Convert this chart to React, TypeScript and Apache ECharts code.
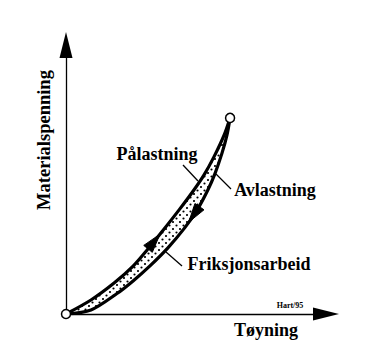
import React, { useEffect, useRef } from "react";
import * as echarts from "echarts";

// Loading curve (Pålastning)
const loadX = [0, 0.96, 1.85, 2.58, 3.12, 3.65, 4.35, 4.92, 5.31, 5.69, 6.08, 6.31];
const loadY = [0, 0.52, 1.15, 1.78, 2.38, 3.01, 3.87, 4.61, 5.17, 5.84, 6.65, 7.29];
// Unloading curve (Avlastning)
const unloadX = [0, 0.96, 1.96, 2.58, 3.23, 3.92, 4.58, 5.04, 5.46, 5.73, 6.0, 6.19, 6.31];
const unloadY = [0, 0.15, 0.76, 1.23, 1.79, 2.46, 3.22, 3.86, 4.62, 5.22, 5.98, 6.65, 7.29];
// Start and end points
const endX = [0, 6.31];
const endY = [0, 7.29];
// Direction arrows: curve, segment index, position along segment, direction
const arrowCurve = ["load", "unload"];
const arrowSeg = [4, 6];
const arrowT = [0.5, 0.75];
const arrowDir = [1, -1];

const axisTitleX = "Tøyning";
const axisTitleY = "Materialspenning";
const labelLoad = "Pålastning";
const labelUnload = "Avlastning";
const labelArea = "Friksjonsarbeid";
const credit = "Hart/95";

const FONT = "'Liberation Serif', 'Times New Roman', serif";

function makeDots(): string {
  const c = document.createElement("canvas");
  c.width = 7;
  c.height = 7;
  const ctx = c.getContext("2d")!;
  ctx.fillStyle = "#ffffff";
  ctx.fillRect(0, 0, 7, 7);
  ctx.fillStyle = "#000000";
  ctx.beginPath();
  ctx.arc(1.5, 1.5, 1.1, 0, Math.PI * 2);
  ctx.arc(5, 5, 1.1, 0, Math.PI * 2);
  ctx.fill();
  return c.toDataURL();
}

export default function App() {
  const ref = useRef<HTMLDivElement>(null);
  useEffect(() => {
    if (!ref.current) return;
    const chart = echarts.init(ref.current, null, { renderer: "svg" });
    const load = loadX.map((x, i) => [x, loadY[i]]);
    const unload = unloadX.map((x, i) => [x, unloadY[i]]);
    const curves: Record<string, number[][]> = { load, unload };
    const dots = makeDots();

    const axisCommon = {
      type: "value" as const,
      min: 0,
      max: 10,
      axisLine: {
        show: true,
        symbol: ["none", "triangle"],
        symbolSize: [13, 26],
        lineStyle: { color: "#000", width: 1.3 },
      },
      axisTick: { show: false },
      axisLabel: { show: false },
      splitLine: { show: false },
    };

    const text = (t: string, x: number, y: number, size: number, extra: any = {}) => ({
      type: "text",
      x,
      y,
      ...extra,
      style: {
        text: t,
        fontFamily: FONT,
        fontSize: size,
        fontWeight: "bold",
        fill: "#000",
        align: "center",
        verticalAlign: "middle",
        textAlign: "center",
        textVerticalAlign: "middle",
      },
    });
    const leader = (x1: number, y1: number, x2: number, y2: number) => ({
      type: "line",
      shape: { x1, y1, x2, y2 },
      style: { stroke: "#000", lineWidth: 1.3 },
    });

    chart.setOption({
      animation: false,
      backgroundColor: "#fff",
      grid: { left: 66, right: 63, top: 45, bottom: 39 },
      xAxis: axisCommon,
      yAxis: axisCommon,
      series: [
        {
          type: "custom",
          data: [[0, 0]],
          z: 1,
          renderItem: (_p: any, api: any) => {
            const pts = load.map((d) => api.coord(d)).concat(
              unload.slice().reverse().map((d) => api.coord(d))
            );
            return {
              type: "polygon",
              shape: { points: pts },
              style: {
                fill: { image: dots, repeat: "repeat", imageWidth: 7, imageHeight: 7 },
                stroke: "none",
              },
            };
          },
        },
        {
          type: "line",
          data: load,
          smooth: 0.3,
          showSymbol: false,
          z: 3,
          lineStyle: { color: "#000", width: 3.2 },
        },
        {
          type: "line",
          data: unload,
          smooth: 0.3,
          showSymbol: false,
          z: 3,
          lineStyle: { color: "#000", width: 3.2 },
        },
        {
          type: "custom",
          data: arrowCurve.map((_, i) => [i]),
          z: 4,
          renderItem: (params: any, api: any) => {
            const k = params.dataIndex;
            const pts = curves[arrowCurve[k]];
            const p0 = api.coord(pts[arrowSeg[k]]);
            const p1 = api.coord(pts[arrowSeg[k] + 1]);
            const t = arrowT[k];
            const cx = p0[0] + (p1[0] - p0[0]) * t;
            const cy = p0[1] + (p1[1] - p0[1]) * t;
            let ux = p1[0] - p0[0];
            let uy = p1[1] - p0[1];
            const len = Math.hypot(ux, uy) || 1;
            ux = (ux / len) * arrowDir[k];
            uy = (uy / len) * arrowDir[k];
            const nx = -uy;
            const ny = ux;
            const L = 19;
            const W = 11;
            return {
              type: "polygon",
              shape: {
                points: [
                  [cx + ux * L * 0.5, cy + uy * L * 0.5],
                  [cx - ux * L * 0.5 + nx * W * 0.5, cy - uy * L * 0.5 + ny * W * 0.5],
                  [cx - ux * L * 0.5 - nx * W * 0.5, cy - uy * L * 0.5 - ny * W * 0.5],
                ],
              },
              style: { fill: "#000", stroke: "#000", lineWidth: 1 },
            };
          },
        },
        {
          type: "scatter",
          data: endX.map((x, i) => [x, endY[i]]),
          symbol: "circle",
          symbolSize: 9,
          z: 5,
          itemStyle: { color: "#fff", borderColor: "#000", borderWidth: 1.5, opacity: 1 },
        },
      ],
      graphic: [
        text(axisTitleY, 44, 140, 18.5, { rotation: Math.PI / 2 }),
        text(axisTitleX, 266, 330, 18),
        text(labelLoad, 157, 154, 18),
        text(labelUnload, 275, 190, 18),
        text(labelArea, 249, 264, 18),
        {
          type: "text",
          x: 290,
          y: 305,
          style: {
            text: credit,
            fontFamily: FONT,
            fontSize: 8,
            fontWeight: "bold",
            fill: "#000",
            align: "center",
            verticalAlign: "middle",
            textAlign: "center",
            textVerticalAlign: "middle",
          },
        },
        leader(183, 165, 198, 181),
        leader(216, 174, 231, 189),
        leader(166, 252, 182, 266),
      ],
    });
    return () => chart.dispose();
  }, []);
  return (
    <div
      ref={ref}
      style={{ position: "fixed", left: 0, top: 0, width: 389, height: 353, background: "#fff" }}
    />
  );
}
